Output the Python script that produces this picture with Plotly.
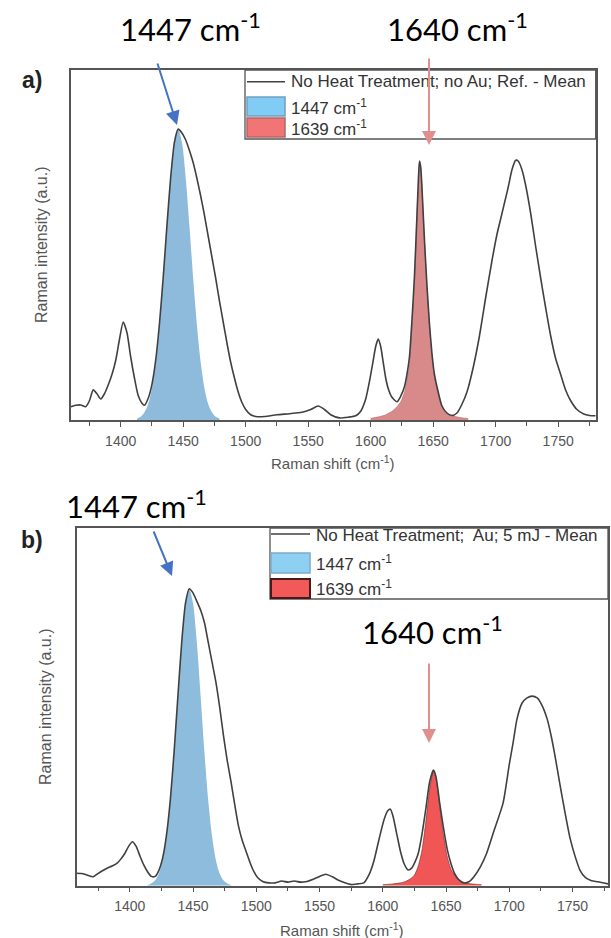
import plotly.graph_objects as go

W, H = 611, 938

# ---------------- data ----------------
# Panel a) : No Heat Treatment; no Au; Ref. - Mean
shift_a = [1360, 1364, 1368, 1372, 1375, 1378, 1381, 1384, 1387, 1390, 1393, 1396, 1399, 1402, 1405,
           1408, 1411, 1414, 1417, 1419, 1422, 1425, 1428, 1431, 1434, 1437, 1440, 1443, 1446, 1449,
           1452, 1455, 1458, 1461, 1464, 1467, 1470, 1473, 1476, 1479, 1482, 1485, 1488, 1491, 1494,
           1497, 1500, 1504, 1508, 1515, 1525, 1535, 1545, 1552, 1558, 1563, 1568, 1575, 1582, 1588,
           1592, 1596, 1599, 1602, 1604, 1606, 1608, 1610, 1612, 1614, 1617, 1621, 1624, 1627, 1629,
           1631, 1633, 1635, 1637, 1638, 1639, 1640, 1641, 1643, 1645, 1647, 1649, 1651, 1654, 1657,
           1661, 1665, 1669, 1673, 1677, 1682, 1687, 1692, 1697, 1701, 1704, 1707, 1710, 1713, 1716,
           1718, 1721, 1724, 1728, 1732, 1736, 1740, 1744, 1748, 1752, 1756, 1760, 1765, 1770, 1775, 1780]
int_a = [3.8, 4.2, 4.3, 3.8, 5.5, 8.6, 7.5, 6.0, 7.5, 10, 13, 17, 23, 28, 25,
         18, 12, 7, 4.8, 4.2, 6.2, 10.2, 17.1, 27.5, 40.7, 55.6, 69.4, 79.4, 83.1, 82,
         80, 77, 73.5, 69, 64, 58.5, 52.5, 46.5, 40.5, 34, 28, 22, 16.5, 12, 8,
         5, 3, 1.5, 1, 1, 1.5, 1.8, 2.2, 3, 4, 3, 1.5, 0.6, 0.8, 1.2,
         2.5, 6, 11, 17, 21, 23.1, 21, 16.5, 12, 9, 6.5, 5.2, 6.8, 9.5, 13,
         18, 28.5, 41, 58.5, 67.2, 74, 72.3, 66.5, 51.5, 38.5, 27.5, 19, 13, 8, 4,
         2, 1.3, 2, 4.5, 8, 15, 24, 35, 45.5, 53, 57.5, 62, 66.5, 71.5, 74.2,
         74, 71.5, 67, 59, 49.5, 40.5, 32, 24, 17.5, 13, 8.5, 5.5, 3, 1.8, 1.3, 1.2]

band1447_a_x = [1413, 1416, 1419, 1422, 1425, 1428, 1431, 1434, 1437, 1440, 1443, 1446,
                1449, 1452, 1455, 1458, 1461, 1464, 1467, 1470, 1473, 1476, 1479]
band1447_a_y = [0.4, 0.9, 2.2, 4.6, 9.1, 16.4, 27, 40.4, 55.4, 69.3, 79.3, 83,
                79.3, 69.3, 55.4, 40.4, 27, 16.4, 9.1, 4.6, 2.2, 0.9, 0.4]

band1639_a_x = [1600, 1606, 1612, 1617, 1621, 1624, 1627, 1629, 1631, 1633, 1635, 1637, 1638, 1639,
                1640, 1641, 1643, 1645, 1647, 1649, 1651, 1654, 1657, 1661, 1666, 1672, 1678]
band1639_a_y = [0.5, 0.9, 1.5, 2.5, 3.8, 5.2, 8, 11.5, 16, 27, 40, 58, 67, 73.8,
                72, 66, 51, 38, 27, 18.5, 12.5, 7.5, 3.8, 1.9, 1.2, 0.7, 0.4]

# Panel b) : No Heat Treatment; Au; 5 mJ - Mean
shift_b = [1358, 1362, 1366, 1371, 1374, 1377, 1382, 1386, 1390, 1393, 1396, 1399, 1402, 1405, 1408,
           1411, 1414, 1417, 1420, 1423, 1426, 1429, 1432, 1435, 1438, 1441, 1444, 1447, 1450, 1453,
           1456, 1459, 1462, 1465, 1468, 1471, 1474, 1477, 1480, 1483, 1486, 1489, 1492, 1495, 1498,
           1501, 1505, 1510, 1515, 1520, 1525, 1530, 1535, 1540, 1545, 1550, 1555, 1560, 1565, 1570,
           1575, 1580, 1585, 1589, 1593, 1597, 1601, 1604, 1606, 1608, 1611, 1614, 1617, 1620, 1623,
           1625, 1628, 1631, 1634, 1637, 1640, 1642, 1645, 1648, 1651, 1654, 1657, 1660, 1664, 1668,
           1672, 1677, 1682, 1688, 1695, 1700, 1703, 1706, 1710, 1714, 1718, 1722, 1726, 1730, 1733,
           1736, 1740, 1744, 1748, 1752, 1756, 1760, 1765, 1770, 1778]
int_b = [3.5, 3.4, 3, 2.5, 3.2, 3.9, 4.9, 5.5, 6.3, 7.5, 9, 11, 12.3, 11, 8.3,
         5.8, 3.9, 2.6, 2.6, 4.3, 7.8, 14.2, 24, 37.4, 53, 68, 79, 83, 81.8, 79.5,
         77, 73.5, 68, 62.5, 57, 50, 42, 35, 29, 22.5, 16.5, 12.5, 9.5, 6.5, 4,
         2.3, 1.2, 0.8, 0.8, 1.3, 1, 1.3, 1.0, 1.2, 1.8, 2.6, 3.2, 2.5, 1.5, 0.8,
         0.3, 0.5, 0.8, 3, 7, 13, 18.5, 21, 21.4, 19.5, 14.5, 9.5, 6, 4.4, 5,
         6.3, 9, 14.5, 21.5, 29, 32.3, 30.5, 23, 16, 10, 6, 3.2, 1.7, 0.8, 1.1,
         2.5, 5.2, 9, 15.5, 23, 34, 40, 46.5, 51, 52.5, 53, 52.5, 50.3, 46.5, 42,
         36.5, 28.3, 20.5, 13.3, 8.2, 4.2, 2.3, 1.4, 1.1, 0.5]

band1447_b_x = [1414, 1417, 1420, 1423, 1426, 1429, 1432, 1435, 1438, 1441, 1444, 1447,
                1450, 1453, 1456, 1459, 1462, 1465, 1468, 1471, 1474, 1477, 1480]
band1447_b_y = [0.2, 0.6, 1.5, 3.4, 7.2, 13.8, 23.8, 37.3, 52.9, 67.9, 78.9, 82.9,
                78.9, 67.9, 52.9, 37.3, 23.8, 13.8, 7.2, 3.4, 1.5, 0.6, 0.2]

band1639_b_x = [1600, 1608, 1614, 1618, 1622, 1625, 1628, 1631, 1634, 1637, 1640, 1642,
                1645, 1648, 1651, 1654, 1657, 1662, 1668, 1673, 1678]
band1639_b_y = [0.3, 0.5, 0.8, 1.2, 2, 3, 5.5, 10, 18, 27, 32.3, 30,
                22, 14, 8, 4.5, 2.8, 1.0, 0.6, 0.4, 0.3]

tick_vals = [1400, 1450, 1500, 1550, 1600, 1650, 1700, 1750]
tick_labels = ["1400", "1450", "1500", "1550", "1600", "1650", "1700", "1750"]
minor_vals = [1375, 1425, 1475, 1525, 1575, 1625, 1675, 1725, 1775]

legend_a = ["No Heat Treatment; no Au; Ref. - Mean", "1447 cm<sup>-1</sup>", "1639 cm<sup>-1</sup>"]
legend_b = ["No Heat Treatment;  Au; 5 mJ - Mean", "1447 cm<sup>-1</sup>", "1639 cm<sup>-1</sup>"]

# ---------------- figure ----------------
def px(x):
    return x / W


def py(y):
    return 1 - y / H


fig = go.Figure()

BLACK = "#404040"

# panel a
fig.add_trace(go.Scatter(x=band1447_a_x, y=band1447_a_y, xaxis="x", yaxis="y", mode="lines",
                         line=dict(width=0, shape="spline", smoothing=0.8), fill="tozeroy",
                         fillcolor="#8EBADB", showlegend=False, hoverinfo="skip"))
fig.add_trace(go.Scatter(x=band1639_a_x, y=band1639_a_y, xaxis="x", yaxis="y", mode="lines",
                         line=dict(width=0.6, color="rgba(150,70,70,0.6)", shape="spline", smoothing=0.6),
                         fill="tozeroy", fillcolor="#D88A8A", showlegend=False, hoverinfo="skip"))
fig.add_trace(go.Scatter(x=shift_a, y=int_a, xaxis="x", yaxis="y", mode="lines",
                         line=dict(width=1.6, color=BLACK, shape="spline", smoothing=0.6),
                         showlegend=False))

# panel b
fig.add_trace(go.Scatter(x=band1447_b_x, y=band1447_b_y, xaxis="x2", yaxis="y2", mode="lines",
                         line=dict(width=0, shape="spline", smoothing=0.8), fill="tozeroy",
                         fillcolor="#8EBCDD", showlegend=False, hoverinfo="skip"))
fig.add_trace(go.Scatter(x=band1639_b_x, y=band1639_b_y, xaxis="x2", yaxis="y2", mode="lines",
                         line=dict(width=0.8, color="rgba(120,30,30,0.7)", shape="spline", smoothing=0.6),
                         fill="tozeroy", fillcolor="#F05656", showlegend=False, hoverinfo="skip"))
fig.add_trace(go.Scatter(x=shift_b, y=int_b, xaxis="x2", yaxis="y2", mode="lines",
                         line=dict(width=1.6, color=BLACK, shape="spline", smoothing=0.6),
                         showlegend=False))

AX = "#555555"
tickfont = dict(family="Liberation Sans, Arial", size=14, color="#555555")


def xaxis(domain, rng):
    return dict(domain=domain, range=rng, showline=True, mirror=True, linecolor=AX, linewidth=1.5,
                ticks="outside", ticklen=5, tickwidth=1.2, tickcolor=AX, tickmode="array",
                tickvals=tick_vals, ticktext=tick_labels, tickfont=tickfont, ticklabelstandoff=2,
                minor=dict(tickmode="array", tickvals=minor_vals, ticks="outside", ticklen=4,
                           tickwidth=1.2, tickcolor=AX),
                showgrid=False, zeroline=False)


def yaxis(domain):
    return dict(domain=domain, range=[0, 100], showline=True, mirror=True, linecolor=AX,
                linewidth=1.5, ticks="", showticklabels=False, showgrid=False, zeroline=False)


layout = dict(
    width=W, height=H, margin=dict(l=0, r=0, t=0, b=0),
    paper_bgcolor="white", plot_bgcolor="white",
    xaxis=dict(xaxis([px(70.7), px(595.7)], [1360, 1780]), anchor="y"),
    yaxis=dict(yaxis([py(420), py(70)]), anchor="x"),
    xaxis2=dict(xaxis([px(76.7), px(608)], [1358, 1778]), anchor="y2"),
    yaxis2=dict(yaxis([py(885.7), py(528)]), anchor="x2"),
)
fig.update_layout(**layout)

shapes = []
annotations = []


def rect(x0, y0, x1, y1, fill, line, lw):
    shapes.append(dict(type="rect", xref="paper", yref="paper", x0=px(x0), x1=px(x1),
                       y0=py(y1), y1=py(y0), fillcolor=fill, line=dict(color=line, width=lw)))


def hline(x0, x1, y, color, lw):
    shapes.append(dict(type="line", xref="paper", yref="paper", x0=px(x0), x1=px(x1),
                       y0=py(y), y1=py(y), line=dict(color=color, width=lw)))


def text(x, y, t, size, color="#333333", family="Liberation Sans, Arial", xanchor="left",
         angle=0, bold=False):
    if bold:
        t = "<b>" + t + "</b>"
    annotations.append(dict(xref="paper", yref="paper", x=px(x), y=py(y), text=t, showarrow=False,
                            xanchor=xanchor, yanchor="middle", textangle=angle,
                            font=dict(family=family, size=size, color=color)))


def arrow(x_tip, y_tip, x_tail, y_tail, color):
    annotations.append(dict(xref="paper", yref="paper", x=px(x_tip), y=py(y_tip), text="",
                            showarrow=True, axref="pixel", ayref="pixel",
                            ax=x_tail - x_tip, ay=y_tail - y_tip, arrowhead=2, arrowsize=1.4,
                            arrowwidth=2, arrowcolor=color))


# legend a
rect(245, 70, 595.7, 139, "white", AX, 1.3)
hline(247, 285, 81.7, BLACK, 1.5)
rect(247, 97, 285, 116, "#80CCF5", "#6F9FC0", 1.5)
rect(247, 118, 285, 137, "#F27575", "#B56565", 1.5)
text(289, 81.7, legend_a[0], 17)
text(289, 106.5, legend_a[1], 17)
text(289, 127.5, legend_a[2], 17)

# legend b
rect(270, 528, 608, 599, "white", AX, 1.3)
hline(271, 310, 534, BLACK, 1.5)
rect(271, 553, 310, 573, "#8DD0F2", "#7FA9C5", 1.5)
rect(271, 579, 310, 598, "#F25A5A", "#4A1A1A", 2)
text(314, 535, legend_b[0], 17)
text(314, 563, legend_b[1], 17)
text(314, 588, legend_b[2], 17)

# axis titles
text(333, 462, "Raman shift (cm<sup>-1</sup>)", 15, "#555555", xanchor="center")
text(342, 929, "Raman shift (cm<sup>-1</sup>)", 15, "#555555", xanchor="center")
text(42, 245, "Raman intensity (a.u.)", 16, "#555555", xanchor="center", angle=-90)
text(45, 707, "Raman intensity (a.u.)", 16, "#555555", xanchor="center", angle=-90)

# panel letters
text(32, 80, "a)", 23, "#222222", xanchor="center", bold=True)
text(32, 540, "b)", 23, "#222222", xanchor="center", bold=True)

# peak callouts
BIG = "Lato, Open Sans, sans-serif"
text(190, 27, "1447 cm<sup>-1</sup>", 31, "black", family=BIG, xanchor="center")
text(457, 27, "1640 cm<sup>-1</sup>", 31, "black", family=BIG, xanchor="center")
text(136, 505, "1447 cm<sup>-1</sup>", 31, "black", family=BIG, xanchor="center")
text(432.5, 630, "1640 cm<sup>-1</sup>", 31, "black", family=BIG, xanchor="center")

arrow(177, 125, 157, 62, "#4472C4")
arrow(429, 145, 429, 57, "#E08E8E")
arrow(172, 576, 153, 530, "#4472C4")
arrow(429, 743, 429, 662, "#E08E8E")

fig.update_layout(shapes=shapes, annotations=annotations)

fig.write_html("out.html")
